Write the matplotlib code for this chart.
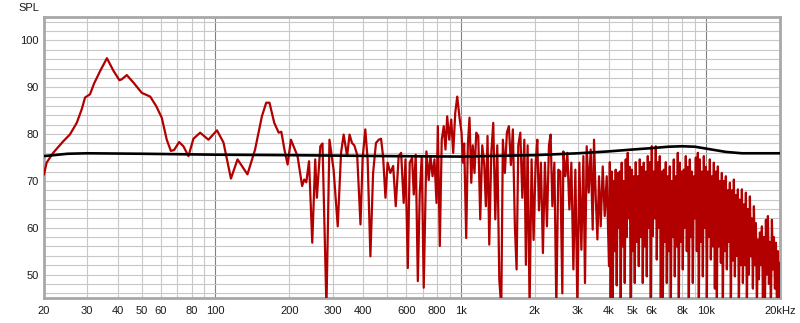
import matplotlib
matplotlib.use('Agg')
import matplotlib.pyplot as plt

plt.rcParams['font.family'] = ['Liberation Sans', 'DejaVu Sans']

# Measured response (red), 20 Hz .. 4 kHz
freq_lo_hz = [
    20, 20.5, 21.8, 24, 25.5, 27.2, 28.5, 29.4, 30.8, 32, 33.9, 36.1, 38.4, 40.6, 41.5, 43.5, 46.3,
    50.1, 54.2, 57.3, 60.4, 63.3, 65.8, 67.8, 71.1, 74, 77.6, 81.3, 86.6, 93.6, 101.4, 107.8,
    115.6, 123, 135, 145, 154.6, 161, 166, 173.6, 181, 185.5, 191, 196.8, 203, 209.5, 216,
    225.5, 230, 234.5, 240.6, 248, 255, 259, 267.5, 273, 283.3, 291.5,
    303, 315, 325, 333, 344, 352, 360, 368, 378, 390, 398, 408, 417, 428, 439, 451, 463, 473,
    482, 493, 503, 516, 530, 543, 558, 571, 585, 595, 608, 619, 633, 643, 655, 668, 680, 693,
    706, 724, 740, 752, 767, 781, 796, 806, 821, 836, 852, 866, 880, 897, 914, 931, 949, 967,
    988, 1007, 1019, 1032, 1052, 1068, 1085, 1103, 1119, 1137, 1156, 1178, 1200, 1223, 1246,
    1265, 1285, 1306, 1331, 1356, 1382, 1408, 1435, 1462, 1484, 1512, 1541, 1570, 1600, 1630,
    1661, 1688, 1715, 1748, 1781, 1815, 1842, 1872, 1907, 1943, 1980, 2018, 2050, 2082, 2121,
    2161, 2202, 2244, 2287, 2323, 2361, 2406, 2451, 2497, 2545, 2593,
    2618, 2668, 2718, 2770, 2822, 2876, 2930, 2986, 3042, 3100, 3159, 3207, 3259, 3321, 3384,
    3448, 3491, 3547, 3604, 3659, 3717, 3788, 3860, 3933,
]
spl_lo_db = [
    71.4, 73.9, 76, 78.5, 79.9, 82.4, 85.3, 87.8, 88.5, 90.8, 93.5, 96.2, 93.5, 91.5, 91.7, 92.6, 91,
    88.8, 88, 86, 83.5, 78.8, 76.4, 76.6, 78.3, 77.4, 75.3, 79, 80.3, 78.8, 80.8, 78.2,
    70.5, 74.6, 71.4, 76.7, 83.8, 86.7, 86.7, 82.4, 80.3, 80.5, 76.7, 73.5, 78.8, 77, 75.3,
    68.9, 70.3, 69.7, 74.2, 56.8, 74.6, 66.4, 77.4, 78, 43, 78.8,
    72.4, 60.3, 76, 79.9, 75.3, 79.9, 78.1, 77.6, 75.6, 60.7, 74.9, 81, 74.6, 53.9, 71.7, 78.1,
    78.8, 79, 75.3, 66.4, 73.9, 71.7, 73.2, 64.6, 75.3, 76, 65.3, 74.6, 51.4, 73.9, 74.9, 67.1,
    75.6, 48.6, 67.1, 75.3, 47.2, 76.3, 70.2, 75.3, 71, 74.6, 65.3, 81.7, 56.1, 78.8, 81.7, 76.7,
    83.8, 78.8, 83.1, 76, 84.5, 88, 83.5, 80.3, 73.9, 78, 57.8, 77.6, 83.5, 69.6, 77.6, 71.7,
    80.3, 79.6, 61.8, 77.6, 73.4, 64.6, 79.6, 56.4, 76, 82.4, 61.8, 77.6, 48.9, 43, 78.8, 71.7,
    80.3, 81.7, 73.4, 81, 60.3, 51.1, 77.6, 80.3, 66.4, 78.8, 52.1, 77.6, 43, 74.6, 57.4, 73.9,
    78.8, 63.7, 73.9, 54.6, 73.9, 60.3, 77.6, 79.9, 64.6, 73.9, 43, 72.4, 72, 46,
    76.3, 71, 76, 63.9, 73.9, 51.1, 72.4, 43, 73.9, 55.3, 75.3, 48.2, 77.4, 67.5, 76.7, 59.6,
    78.8, 66.7, 57.5, 71, 60.3, 73.1, 62.5, 71,
]

# Measured response (red), 4 kHz .. 20 kHz (dense comb region)
freq_hi_hz = [
    4018, 4050, 4083, 4121, 4160, 4199, 4239, 4279, 4320, 4361,
    4402, 4443, 4485, 4528, 4571, 4614, 4658, 4702, 4746, 4791,
    4837, 4882, 4928, 4975, 5022, 5069, 5117, 5165, 5214, 5264,
    5314, 5364, 5415, 5466, 5517, 5569, 5622, 5675, 5729, 5783,
    5837, 5892, 5948, 6004, 6061, 6118, 6176, 6234, 6293, 6352,
    6412, 6473, 6534, 6596, 6658, 6721, 6784, 6848, 6913, 6978,
    7044, 7110, 7177, 7244, 7313, 7382, 7451, 7521, 7592, 7664,
    7737, 7810, 7883, 7957, 8033, 8109, 8185, 8262, 8340, 8419,
    8499, 8579, 8660, 8742, 8824, 8907, 8992, 9078, 9164, 9250,
    9337, 9425, 9514, 9603, 9694, 9786, 9879, 9972, 10066, 10160,
    10257, 10354, 10452, 10550, 10650, 10750, 10852, 10954, 11058, 11162,
    11267, 11373, 11481, 11589, 11699, 11809, 11921, 12033, 12147, 12262,
    12378, 12494, 12612, 12731, 12852, 12973, 13096, 13219, 13344, 13470,
    13598, 13726, 13856, 13986, 14118, 14251, 14386, 14521, 14659, 14797,
    14937, 15078, 15220, 15363, 15509, 15655, 15803, 15952, 16103, 16255,
    16409, 16563, 16720, 16877, 17037, 17197, 17360, 17524, 17690, 17856,
    18025, 18194, 18366, 18539, 18715, 18891, 19070, 19249, 19432, 19615,
    19737, 19860,
]
spl_hi_db = [
    51.8, 74, 45, 72, 43, 70, 55, 72.4, 47.7, 71.7,
    60, 72, 43, 73.9, 56, 70, 48.2, 74.6, 58, 76,
    62, 73, 43, 72.4, 55, 71, 48.2, 74, 57, 71,
    51.8, 74.6, 58, 73, 48.2, 73.9, 56, 72, 49.6, 75.3,
    60, 74, 43, 77.4, 58.2, 72, 62, 77.4, 53.2, 74,
    60, 75.3, 45, 72, 43, 72.4, 57, 74, 48.2, 71,
    55, 73.1, 43, 70, 58, 74.6, 49.6, 71, 56, 76,
    43, 73.9, 57, 72, 51.1, 72.4, 60, 75.3, 55, 73,
    43, 74.6, 58, 72, 48.2, 71, 62, 75, 55, 76,
    43, 74.6, 57, 72, 49.6, 75.3, 60, 73, 45, 72,
    58, 74.6, 53.2, 71, 56, 73.9, 47, 72, 43, 73.1,
    56, 70, 52.5, 71.7, 43, 70, 55, 71, 51.1, 68,
    57, 69.6, 43, 68, 53, 70.3, 49.6, 67, 54, 68.2,
    43, 66, 52, 68.2, 48.2, 65, 52, 67.5, 43, 64,
    50, 66.7, 53.9, 62, 47, 64.6, 52, 61, 43, 57.5,
    49, 59, 52, 60.3, 45, 58, 43, 61.7, 50, 62.5,
    48, 57, 43, 61.7, 51.1, 58, 47, 56.8, 43, 55,
    45, 52.5,
]

# Reference / target curve (black)
ref_freq_hz = [20, 25, 30, 50, 100, 200, 500, 1000, 2000, 3000, 4000, 5000, 6000, 7000, 8000,
               9000, 10000, 12000, 14000, 17000, 20000]
ref_spl_db = [75.3, 75.8, 75.9, 75.8, 75.6, 75.5, 75.3, 75.2, 75.5, 75.9, 76.3, 76.7, 77.0, 77.3,
              77.4, 77.3, 76.9, 76.2, 75.9, 75.9, 75.9]

xtick_values = [20, 30, 40, 50, 60, 80, 100, 200, 300, 400, 600, 800, 1000, 2000, 3000, 4000,
                5000, 6000, 8000, 10000, 20000]
xtick_labels = ['20', '30', '40', '50', '60', '80', '100', '200', '300', '400', '600', '800',
                '1k', '2k', '3k', '4k', '5k', '6k', '8k', '10k', '20kHz']
ytick_values = [50, 60, 70, 80, 90, 100]

freq_hz = freq_lo_hz + freq_hi_hz
spl_db = spl_lo_db + spl_hi_db

fig = plt.figure(figsize=(8, 3.23), dpi=100)
fig.patch.set_facecolor('white')
ax = fig.add_axes([44 / 800, 1 - 298 / 323, 736 / 800, 281 / 323])
ax.set_xscale('log')
ax.set_xlim(20, 20000)
ax.set_ylim(45, 105)

# grid
for dec in (10, 100, 1000):
    for m in range(2, 10):
        v = m * dec
        if 20 <= v <= 20000:
            ax.axvline(v, color='#c8c8c8', lw=0.8, zorder=0)
for v in (100, 1000, 10000):
    ax.axvline(v, color='#808080', lw=0.8, zorder=0)
for y in range(46, 105, 2):
    ax.axhline(y, color='#c8c8c8', lw=0.8, zorder=0)

ax.plot(freq_hz, spl_db, color='#b20000', lw=1.6, zorder=3, solid_joinstyle='round')
ax.plot(ref_freq_hz, ref_spl_db, color='#000000', lw=1.9, zorder=4)

ax.minorticks_off()
ax.set_xticks(xtick_values)
ax.set_xticklabels(xtick_labels)
ax.set_yticks(ytick_values)
ax.tick_params(axis='both', length=0, labelsize=8, colors='#1a1a1a')
ax.tick_params(axis='x', pad=6)
ax.tick_params(axis='y', pad=4)

for s in ax.spines.values():
    s.set_color('#a8a8a8')
    s.set_linewidth(2.0)

fig.text(39 / 800, 1 - 8 / 323, 'SPL', ha='right', va='center', fontsize=8, color='#1a1a1a')

fig.savefig('out.png', dpi=100, facecolor='white')
